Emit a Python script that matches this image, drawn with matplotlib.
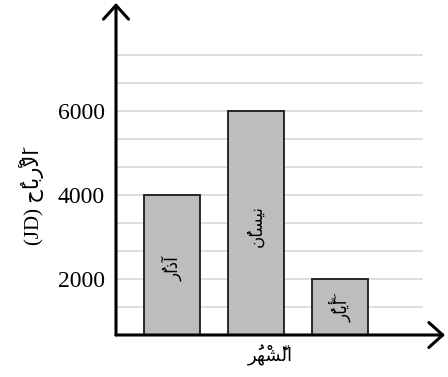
import matplotlib
matplotlib.use("Agg")
import matplotlib.pyplot as plt

# ---------------- data ----------------
months = ["آذارُ", "نيسانُ", "أَيّارُ"]
profits = [4000, 6000, 2000]
y_ticks = [2000, 4000, 6000]
y_tick_labels = ["2000", "4000", "6000"]
x_label = "الشَّهْرُ"
y_label = "الأَرْباحُ (JD)"

# ---------------- minimal Arabic shaping (matplotlib has no shaper) ----------------
FORMS = {  # iso, fin, ini, med
    "\u0627": ("\uFE8D", "\uFE8E", None, None),
    "\u0623": ("\uFE83", "\uFE84", None, None),
    "\u0622": ("\uFE81", "\uFE82", None, None),
    "\u0625": ("\uFE87", "\uFE88", None, None),
    "\u0628": ("\uFE8F", "\uFE90", "\uFE91", "\uFE92"),
    "\u062D": ("\uFEA1", "\uFEA2", "\uFEA3", "\uFEA4"),
    "\u0630": ("\uFEAB", "\uFEAC", None, None),
    "\u0631": ("\uFEAD", "\uFEAE", None, None),
    "\u0633": ("\uFEB1", "\uFEB2", "\uFEB3", "\uFEB4"),
    "\u0634": ("\uFEB5", "\uFEB6", "\uFEB7", "\uFEB8"),
    "\u0644": ("\uFEDD", "\uFEDE", "\uFEDF", "\uFEE0"),
    "\u0646": ("\uFEE5", "\uFEE6", "\uFEE7", "\uFEE8"),
    "\u0647": ("\uFEE9", "\uFEEA", "\uFEEB", "\uFEEC"),
    "\u064A": ("\uFEF1", "\uFEF2", "\uFEF3", "\uFEF4"),
}
LAM_ALEF = {"\u0627": ("\uFEFB", "\uFEFC"), "\u0623": ("\uFEF7", "\uFEF8"),
            "\u0622": ("\uFEF5", "\uFEF6"), "\u0625": ("\uFEF9", "\uFEFA")}


def is_mark(c):
    return 0x064B <= ord(c) <= 0x0652


def shape_word(w):
    clusters = []
    for c in w:
        if is_mark(c) and clusters:
            clusters[-1][1].append(c)
        else:
            clusters.append([c, []])
    merged = []
    i = 0
    while i < len(clusters):
        b, m = clusters[i]
        if b == "\u0644" and i + 1 < len(clusters) and clusters[i + 1][0] in LAM_ALEF:
            merged.append(["LA" + clusters[i + 1][0], m + clusters[i + 1][1]])
            i += 2
        else:
            merged.append([b, m])
            i += 1
    out = []
    n = len(merged)
    for i, (b, m) in enumerate(merged):
        prev = merged[i - 1][0] if i > 0 else None
        nxt = merged[i + 1][0] if i + 1 < n else None
        prev_joins = prev is not None and prev in FORMS and FORMS[prev][2] is not None
        if b.startswith("LA"):
            g = LAM_ALEF[b[2]][1 if prev_joins else 0]
        elif b in FORMS:
            f = FORMS[b]
            can_next = f[2] is not None and nxt is not None and (nxt in FORMS or nxt.startswith("LA"))
            if prev_joins and can_next:
                g = f[3]
            elif prev_joins:
                g = f[1]
            elif can_next:
                g = f[2]
            else:
                g = f[0]
        else:
            g = b
        out.append(g + "".join(m))
    return "".join(reversed(out))


def ar(text):
    words = text.split(" ")
    vis = []
    for w in reversed(words):
        if any("\u0600" <= c <= "\u06FF" for c in w):
            vis.append(shape_word(w))
        else:
            vis.append(w)
    return " ".join(vis)


# ---------------- figure ----------------
W, H = 448, 377
fig = plt.figure(figsize=(W / 100, H / 100), dpi=100)
x0, x1, yb, yt = 116, 423, 335, 3
ax = fig.add_axes([x0 / W, (H - yb) / H, (x1 - x0) / W, (yb - yt) / H])

step = 2000 / 3
ymin = step
ymax = 2000 + (279 - yt) / 42 * 1000
ax.set_ylim(ymin, ymax)
ax.set_xlim(-(172 - x0) / 84, (x1 - 172) / 84)

grid_vals = [k * step for k in range(2, 12)]
for g in grid_vals:
    ax.axhline(g, color="#d4d4d4", lw=1.1, zorder=0)

xs = list(range(len(months)))
bw = 56 / 84
ax.bar(xs, [p - ymin for p in profits], bottom=ymin, width=bw,
       color="#bdbdbd", edgecolor="#1a1a1a", linewidth=1.3, zorder=2)

for x, p, m in zip(xs, profits, months):
    ax.text(x, (p + ymin) / 2 - 80, ar(m), rotation=90, ha="center", va="center",
            fontsize=12, family=["DejaVu Sans"], zorder=3)

for s in ax.spines.values():
    s.set_visible(False)
ax.set_xticks([])
ax.set_yticks(y_ticks)
ax.set_yticklabels(y_tick_labels, family="Liberation Serif", fontsize=17)
ax.tick_params(axis="y", length=0, pad=8)

arrow = dict(arrowstyle="->,head_length=0.5,head_width=0.45", lw=2.2,
             color="black", shrinkA=0, shrinkB=0, mutation_scale=20)
ax.annotate("", xy=(0, 1.0), xytext=(0, 0), xycoords="axes fraction",
            arrowprops=arrow, annotation_clip=False)
ax.annotate("", xy=((445 - x0) / (x1 - x0), 0), xytext=(0, 0),
            xycoords="axes fraction", arrowprops=arrow, annotation_clip=False)

fig.text(270 / W, 1 - 355 / H, ar(x_label), ha="center", va="center",
         fontsize=13, family=["DejaVu Sans"])
fig.text(32 / W, 1 - 197 / H, ar(y_label), ha="center", va="center", rotation=90,
         fontsize=15, family=["Liberation Serif", "DejaVu Sans"])

fig.savefig("out.png", dpi=100)
